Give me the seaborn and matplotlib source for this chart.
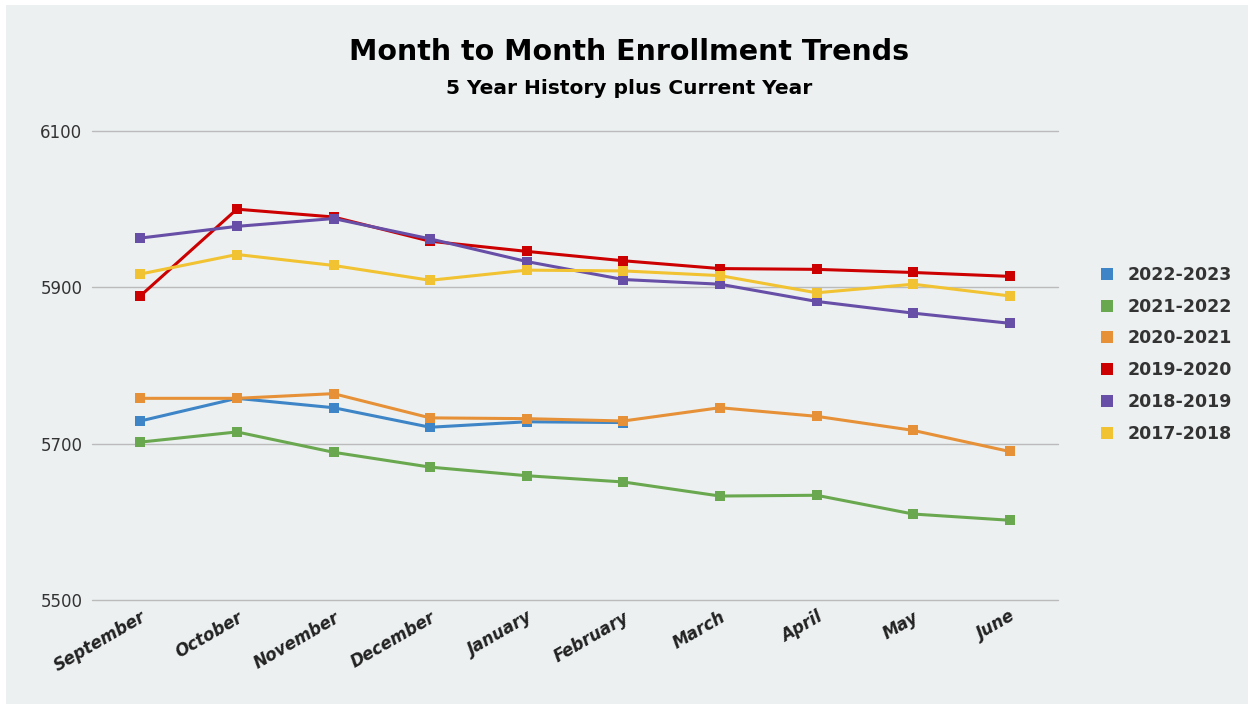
import pandas as pd
import numpy as np
import matplotlib
matplotlib.use("Agg")
import matplotlib.pyplot as plt
from matplotlib.lines import Line2D
import seaborn as sns

months = ["September", "October", "November", "December", "January",
          "February", "March", "April", "May", "June"]
years = ["2022-2023", "2021-2022", "2020-2021", "2019-2020", "2018-2019", "2017-2018"]
colors = ["#3D85C6", "#6AA84F", "#E69138", "#CC0000", "#674EA7", "#F1C232"]

y2022 = [5729, 5758, 5746, 5721, 5728, 5727, None, None, None, None]
y2021 = [5702, 5715, 5689, 5670, 5659, 5651, 5633, 5634, 5610, 5602]
y2020 = [5758, 5758, 5764, 5733, 5732, 5729, 5746, 5735, 5717, 5690]
y2019 = [5889, 6000, 5990, 5959, 5946, 5934, 5924, 5923, 5919, 5914]
y2018 = [5963, 5978, 5988, 5962, 5933, 5910, 5904, 5882, 5867, 5854]
y2017 = [5917, 5942, 5928, 5909, 5922, 5921, 5915, 5893, 5904, 5889]

bg = "#ECF0F1"

# long format for seaborn
rows = []
for yr, vals in zip(years, [y2022, y2021, y2020, y2019, y2018, y2017]):
    for m, v in zip(months, vals):
        if v is not None:
            rows.append({"month": m, "year": yr, "enrollment": v})
df = pd.DataFrame(rows)
df["month"] = pd.Categorical(df["month"], categories=months, ordered=True)
df["x"] = df["month"].cat.codes

sns.set_style("white")
plt.rcParams["font.family"] = ["DejaVu Sans"]

fig = plt.figure(figsize=(12.54, 7.06), dpi=100)
fig.patch.set_facecolor("white")
fig.patches.append(plt.Rectangle((6 / 1254, 2 / 706), 1242 / 1254, 699 / 706,
                                 transform=fig.transFigure, facecolor=bg,
                                 edgecolor="none", zorder=-10))
ax = fig.add_axes([92 / 1254, 106 / 706, 966 / 1254, 469 / 706])
ax.set_facecolor(bg)

sns.lineplot(data=df, x="x", y="enrollment", hue="year", hue_order=years,
             palette=colors, marker="s", markersize=7, markeredgewidth=0,
             linewidth=2.2, sort=False, legend=False, ax=ax)

ax.set_xlim(-0.5, 9.5)
ax.set_ylim(5500, 6100)
ax.set_yticks([5500, 5700, 5900, 6100])
ax.set_xticks(range(len(months)))
ax.set_xticklabels(months, rotation=30, ha="right", rotation_mode="anchor",
                   fontsize=12, fontweight="bold", fontstyle="italic", color="#222222")
ax.tick_params(axis="y", labelsize=12, labelcolor="#333333", length=0, pad=7)
ax.tick_params(axis="x", length=0, pad=6)
ax.yaxis.grid(True, color="#BBBBBB", linewidth=1)
for g in ax.get_ygridlines():
    g.set_clip_on(False)
ax.set_axisbelow(True)
for s in ax.spines.values():
    s.set_visible(False)
ax.set_xlabel("")
ax.set_ylabel("")

fig.text(0.502, 0.926, "Month to Month Enrollment Trends", ha="center", va="center",
         fontsize=20.5, fontweight="bold", color="black")
fig.text(0.502, 0.875, "5 Year History plus Current Year", ha="center", va="center",
         fontsize=14.5, fontweight="bold", color="black")

handles = [Line2D([], [], linestyle="none", marker="s", markersize=8,
                  markerfacecolor=c, markeredgewidth=0) for c in colors]
leg = fig.legend(handles, years, loc="center left", bbox_to_anchor=(1098 / 1254, 0.498),
                 frameon=False, labelspacing=0.8, handletextpad=0.7, handlelength=1.0,
                 borderpad=0, borderaxespad=0,
                 prop={"size": 12.5, "weight": "bold"})
for t in leg.get_texts():
    t.set_color("#333333")

fig.savefig("out.png", dpi=100, facecolor="white")
